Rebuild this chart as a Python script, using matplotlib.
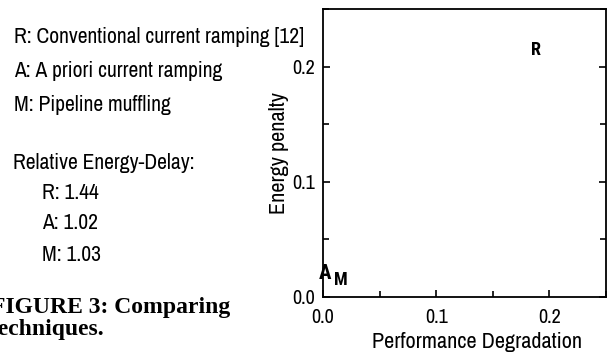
import matplotlib
matplotlib.use("Agg")
import matplotlib.pyplot as plt
from matplotlib.ticker import MultipleLocator

# Data
labels = ["R", "A", "M"]
perf_degradation = [0.188, 0.002, 0.016]
energy_penalty = [0.214, 0.020, 0.015]
label_sizes = [13, 15, 13]
xticks = [0.0, 0.1, 0.2]
yticks = [0.0, 0.1, 0.2]
xtick_labels = ["0.0", "0.1", "0.2"]
ytick_labels = ["0.0", "0.1", "0.2"]
legend_lines = ["R: Conventional current ramping [12]",
                "A: A priori current ramping",
                "M: Pipeline muffling"]
ed_title = "Relative Energy-Delay:"
ed_lines = ["R: 1.44", "A: 1.02", "M: 1.03"]

W, H = 610, 354
fig = plt.figure(figsize=(W / 100, H / 100), dpi=100)
font = ["Archivo Narrow", "DejaVu Sans"]
bold_font = ["Roboto Condensed", "Fira Sans Condensed", "Archivo Narrow", "DejaVu Sans"]
plt.rcParams["font.family"] = font

ax = fig.add_axes([323 / W, 1 - 297 / H, 283 / W, 288 / H])
ax.set_xlim(0, 0.25)
ax.set_ylim(0, 0.25)
for lab, x, y, s in zip(labels, perf_degradation, energy_penalty, label_sizes):
    ax.text(x, y, lab, ha="center", va="center", fontsize=s, fontweight="bold",
            family=bold_font)

ax.set_xticks(xticks)
ax.set_xticklabels(xtick_labels)
ax.set_yticks(yticks)
ax.set_yticklabels(ytick_labels)
ax.xaxis.set_minor_locator(MultipleLocator(0.05))
ax.yaxis.set_minor_locator(MultipleLocator(0.05))
ax.tick_params(which="both", direction="in", labelsize=14.5, width=1.2,
               left=True, right=True, bottom=True, top=False)
ax.tick_params(axis="x", which="both", pad=8)
ax.tick_params(axis="y", which="both", pad=6)
ax.tick_params(which="major", length=5)
ax.tick_params(which="minor", length=4)
for sp in ax.spines.values():
    sp.set_linewidth(1.3)

ax.set_xlabel("Performance Degradation", fontsize=16)
ax.xaxis.set_label_coords(0.544, -0.122)
ax.set_ylabel("Energy penalty", fontsize=16, labelpad=2)

def ftext(x, y, s, **kw):
    fig.text(x / W, 1 - y / H, s, va="center", **kw)

ys = [37, 71, 105]
for s, y in zip(legend_lines, ys):
    ftext(14, y, s, fontsize=15.5)
ftext(13, 163, ed_title, fontsize=15.5)
for s, y in zip(ed_lines, [193, 223, 255]):
    ftext(42, y, s, fontsize=15.5)

serif = ["Liberation Serif", "DejaVu Serif"]
ftext(-9, 308, "FIGURE 3: Comparing", fontsize=17, fontweight="bold", family=serif)
ftext(-9, 330, "techniques.", fontsize=17, fontweight="bold", family=serif)

fig.savefig("out.png", dpi=100)
